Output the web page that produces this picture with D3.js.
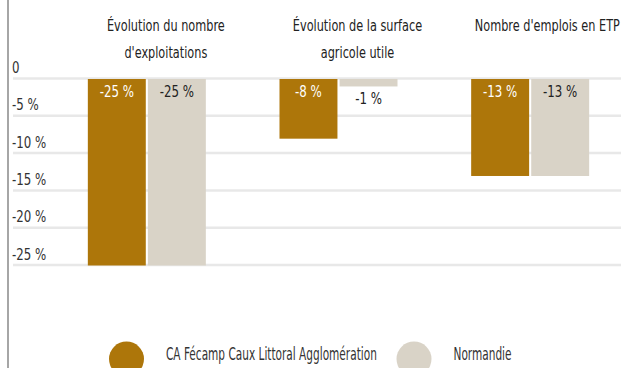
<!DOCTYPE html>
<html>
<head>
<meta charset="utf-8">
<script src="https://cdn.jsdelivr.net/npm/d3@7"></script>
<style>
  html, body { margin: 0; padding: 0; background: #fff; }
  svg { display: block; font-family: "DejaVu Sans Condensed", "Liberation Sans", sans-serif; }
</style>
</head>
<body>
<svg id="chart" width="621" height="368"></svg>
<script>
// Indicators (one group per indicator)
const categories = [
  ["Évolution du nombre", "d'exploitations"],
  ["Évolution de la surface", "agricole utile"],
  ["Nombre d'emplois en ETP"]
];
const seriesNames = ["CA Fécamp Caux Littoral Agglomération", "Normandie"];
const territoryValues = [-25, -8, -13];
const regionValues = [-25, -1, -13];
const tickValues = [0, -5, -10, -15, -20, -25];
const tickLabels = ["0", "-5 %", "-10 %", "-15 %", "-20 %", "-25 %"];

const colors = ["#ad760a", "#d9d3c7"];
const labelColors = ["#ffffff", "#222222"];

const svg = d3.select("#chart");
const W = 621, H = 368;

// narrow text: draw at the origin and squeeze horizontally with a transform
function narrowText(parent, x, y, str, size, factor, anchor, fill) {
  return parent.append("text")
    .attr("transform", `translate(${x},${y}) scale(${factor},1)`)
    .attr("text-anchor", anchor || "start")
    .attr("font-size", size)
    .attr("fill", fill)
    .text(str);
}

const y = d3.scaleLinear().domain([0, -25]).range([79, 265.5]);
const x = d3.scaleBand().domain(d3.range(categories.length)).range([51, 626]);
const inner = d3.scaleBand().domain([0, 1]).range([-59, 59]).paddingInner(0.035);

// left frame line
svg.append("line")
  .attr("x1", 8).attr("x2", 8).attr("y1", 0).attr("y2", H)
  .attr("stroke", "#a6a6a6").attr("stroke-width", 2);

// horizontal grid + tick labels
const grid = svg.append("g");
tickValues.forEach((v, i) => {
  grid.append("line")
    .attr("x1", 13).attr("x2", W)
    .attr("y1", y(v) - 0.5).attr("y2", y(v) - 0.5)
    .attr("stroke", "#e8e8e8").attr("stroke-width", 2.5);
  narrowText(grid, 12, y(v) - 6, tickLabels[i], 16, 0.82, "start", "#333");
});

const series = [territoryValues, regionValues];

// bars with their value labels
series.forEach((vals, s) => {
  const g = svg.append("g");
  vals.forEach((v, i) => {
    const cx = x(i) + x.bandwidth() / 2;
    const x0 = cx + inner(s);
    const barH = y(v) - y(0);
    g.append("rect")
      .attr("x", x0).attr("y", y(0))
      .attr("width", inner.bandwidth())
      .attr("height", barH)
      .attr("fill", colors[s]);
    const inside = barH > 20;
    narrowText(g, x0 + inner.bandwidth() / 2, inside ? y(0) + 17.5 : y(v) + 17.5,
      v + " %", 16, 0.82, "middle", inside ? labelColors[s] : "#222");
  });
});

// group titles (kept inside the right edge)
categories.forEach((lines, i) => {
  lines.forEach((ln, k) => {
    let cx = x(i) + x.bandwidth() / 2 + 19;
    const t = narrowText(svg, cx, 31 + k * 27, ln, 16, 0.785, "middle", "#222");
    const b = t.node().getBoundingClientRect();
    if (b.right > W - 1) {
      cx -= b.right - (W - 1);
      t.attr("transform", `translate(${cx},${31 + k * 27}) scale(0.785,1)`);
    }
  });
});

// legend
const legendX = [126.5, 414];
seriesNames.forEach((name, s) => {
  svg.append("circle")
    .attr("cx", legendX[s]).attr("cy", 359).attr("r", 17.5)
    .attr("fill", colors[s]);
  narrowText(svg, legendX[s] + 39.5, 359.5, name, 17, 0.69, "start", "#333");
});
</script>
</body>
</html>
